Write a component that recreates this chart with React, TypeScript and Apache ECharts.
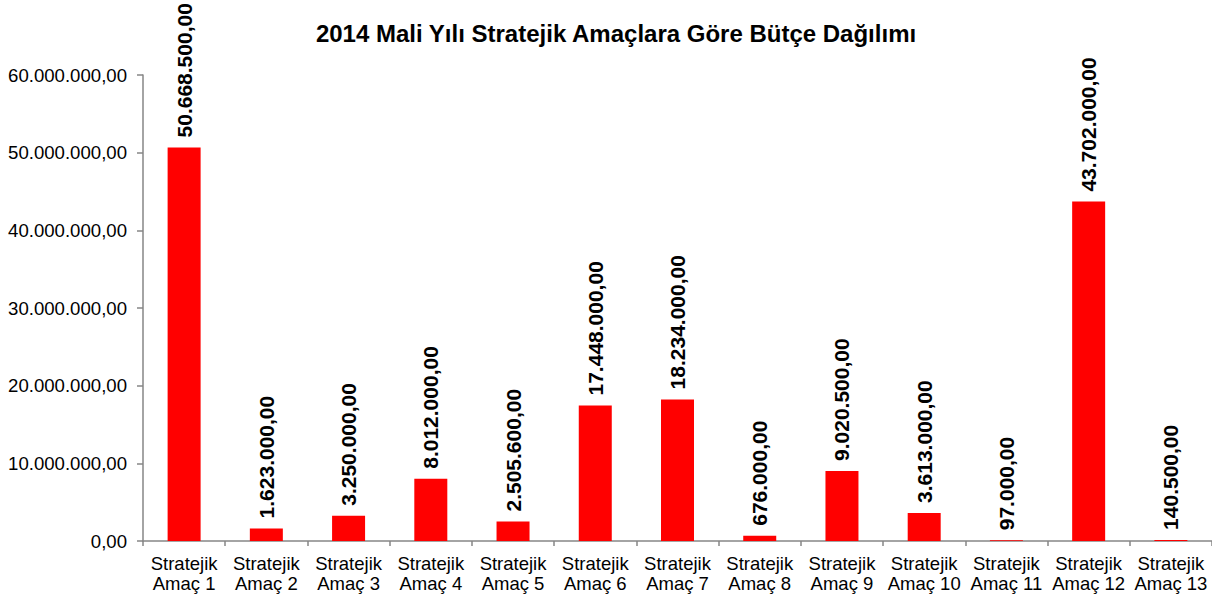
import React, { useEffect, useRef } from "react";
import * as echarts from "echarts";

const categories = [
  "Stratejik\nAmaç 1", "Stratejik\nAmaç 2", "Stratejik\nAmaç 3", "Stratejik\nAmaç 4",
  "Stratejik\nAmaç 5", "Stratejik\nAmaç 6", "Stratejik\nAmaç 7", "Stratejik\nAmaç 8",
  "Stratejik\nAmaç 9", "Stratejik\nAmaç 10", "Stratejik\nAmaç 11", "Stratejik\nAmaç 12",
  "Stratejik\nAmaç 13",
];
const values = [
  50668500, 1623000, 3250000, 8012000, 2505600, 17448000, 18234000,
  676000, 9020500, 3613000, 97000, 43702000, 140500,
];
const title = "2014 Mali Yılı Stratejik Amaçlara Göre Bütçe Dağılımı";

function fmtTR(v: number): string {
  const fixed = v.toFixed(2);
  const [intPart, dec] = fixed.split(".");
  const withDots = intPart.replace(/\B(?=(\d{3})+(?!\d))/g, ".");
  return withDots + "," + dec;
}

export default function App() {
  const ref = useRef<HTMLDivElement>(null);
  useEffect(() => {
    if (!ref.current) return;
    const chart = echarts.init(ref.current, null, { renderer: "svg" });
    const font = "Liberation Sans, Arial, sans-serif";
    chart.setOption({
      animation: false,
      backgroundColor: "#ffffff",
      title: {
        text: title,
        left: 611,
        textAlign: "center",
        top: 16,
        textStyle: { fontFamily: font, fontSize: 24, fontWeight: "bold", color: "#000" },
      },
      grid: { left: 143, right: -2, top: 75, bottom: 59, containLabel: false },
      xAxis: {
        type: "category",
        data: categories,
        axisLine: { lineStyle: { color: "#868686", width: 1.5 } },
        axisTick: { show: true, length: 5, lineStyle: { color: "#868686", width: 1.5 } },
        axisLabel: {
          interval: 0,
          fontFamily: font,
          fontSize: 18.5,
          color: "#000",
          lineHeight: 20,
          margin: 12,
        },
      },
      yAxis: {
        type: "value",
        min: 0,
        max: 60000000,
        interval: 10000000,
        splitLine: { show: false },
        axisLine: { show: true, lineStyle: { color: "#868686", width: 1.5 } },
        axisTick: { show: true, length: 6, lineStyle: { color: "#868686", width: 1.5 } },
        axisLabel: {
          fontFamily: font,
          fontSize: 18.6,
          color: "#000",
          margin: 16,
          formatter: (v: number) => fmtTR(v),
        },
      },
      series: [
        {
          type: "bar",
          data: values,
          barWidth: 33,
          itemStyle: { color: "#ff0000" },
          label: {
            show: true,
            position: "top",
            rotate: 90,
            align: "left",
            verticalAlign: "middle",
            distance: 10,
            fontFamily: font,
            fontSize: 21,
            fontWeight: "bold",
            color: "#000",
            formatter: (p: any) => fmtTR(p.value),
          },
        },
      ],
    });
    return () => chart.dispose();
  }, []);
  return (
    <div
      ref={ref}
      style={{ position: "fixed", left: 0, top: 0, width: 1212, height: 600, background: "#fff" }}
    />
  );
}
